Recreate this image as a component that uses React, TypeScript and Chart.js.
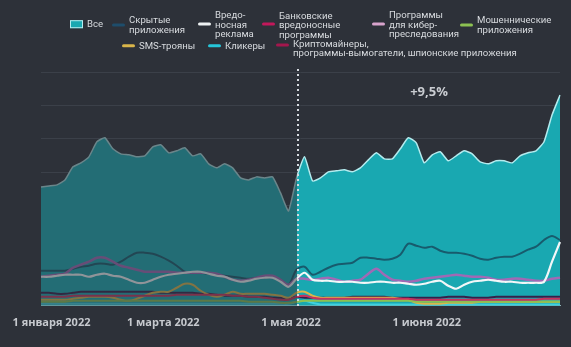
import React, { useEffect, useRef } from 'react';
import { Chart, registerables } from 'chart.js';

Chart.register(...registerables);

// ---------- DATA ----------
const categories = [
  '2021-12-28','2022-01-01','2022-01-05','2022-01-09','2022-01-13','2022-01-17','2022-01-21','2022-01-25','2022-01-29','2022-02-02',
  '2022-02-06','2022-02-10','2022-02-14','2022-02-18','2022-02-23','2022-03-01','2022-03-05','2022-03-09','2022-03-13','2022-03-17',
  '2022-03-21','2022-03-25','2022-03-29','2022-04-02','2022-04-06','2022-04-10','2022-04-14','2022-04-18','2022-04-21','2022-04-24',
  '2022-04-27','2022-05-01','2022-05-03','2022-05-05','2022-05-07','2022-05-09','2022-05-11','2022-05-13','2022-05-15','2022-05-17',
  '2022-05-18','2022-05-20','2022-05-22','2022-05-24','2022-05-25','2022-05-27','2022-05-29','2022-05-30','2022-06-01','2022-06-03',
  '2022-06-05','2022-06-07','2022-06-09','2022-06-11','2022-06-13','2022-06-15','2022-06-17','2022-06-19','2022-06-21','2022-06-23',
  '2022-06-25','2022-06-27','2022-06-29','2022-07-01','2022-07-03','2022-07-05',
];

const xTickLabels: Record<string, string> = {
  '2022-01-01': '1 января 2022',
  '2022-03-01': '1 марта 2022',
  '2022-05-01': '1 мая 2022',
  '2022-06-01': '1 июня 2022',
};

const dividerCategory = '2022-05-03';
const changeLabel = '+9,5%';

const seriesNames = [
  'Все',
  'Скрытые приложения',
  'Вредоносная реклама',
  'Банковские вредоносные программы',
  'Программы для кибер-преследования',
  'Мошеннические приложения',
  'SMS-трояны',
  'Кликеры',
  'Криптомайнеры, программы-вымогатели, шпионские приложения',
];

const legendLines = [
  ['Все'],
  ['Скрытые', 'приложения'],
  ['Вредо-', 'носная', 'реклама'],
  ['Банковские', 'вредоносные', 'программы'],
  ['Программы', 'для кибер-', 'преследования'],
  ['Мошеннические', 'приложения'],
  ['SMS-трояны'],
  ['Кликеры'],
  ['Криптомайнеры,', 'программы-вымогатели, шпионские приложения'],
];

const vse = [35.6,35.9,36.2,37.7,41.6,42.8,44.6,49.1,50.3,47.0, 45.5,45.2,44.6,44.9,47.6,48.2,45.8,46.4,47.3,44.9, 45.5,42.5,41.3,42.5,41.3,38.3,37.7,38.6,38.3,38.6, 33.8,28.4,38.3,44.6,37.4,38.3,40.1,40.4,40.7,40.1, 41.3,43.7,45.8,44.0,44.0,47.0,50.3,48.8,42.8,45.2, 46.1,43.4,44.9,46.4,45.5,43.1,42.5,43.4,43.4,42.8, 44.9,45.8,46.4,49.1,57.1,63.1];
const skrytye = [10.5,10.5,10.5,10.5,11.1,11.7,12.0,12.6,12.6,12.3, 13.2,14.7,15.9,15.9,15.6,14.7,13.5,12.0,10.2,9.9, 9.9,9.6,9.3,9.0,8.7,8.4,8.1,8.4,8.4,8.7, 7.8,6.3,10.8,11.7,9.3,10.2,11.4,12.3,12.6,12.9, 14.4,14.4,14.1,13.8,14.1,15.3,18.6,18.0,17.4,17.7, 16.5,15.9,15.9,15.6,15.0,14.1,13.8,14.4,14.7,14.7, 15.6,16.8,17.7,19.7,20.9,19.7];
const vredReklama = [8.7,8.7,9.0,9.3,9.3,9.3,8.7,9.3,9.6,9.0, 8.7,7.8,6.9,6.9,7.8,8.7,9.3,9.6,9.9,10.2, 10.2,9.6,9.0,8.7,7.8,7.2,7.5,8.1,8.4,8.4, 7.2,5.7,8.1,9.9,7.8,7.5,7.5,7.2,7.2,7.2, 6.9,6.9,7.2,7.2,6.9,6.9,6.6,6.3,6.6,7.2, 7.5,6.0,5.1,6.3,7.2,7.5,7.8,7.5,7.2,7.2, 6.9,6.9,6.9,7.2,13.2,19.1];
const bank = [2.7,2.7,2.7,2.7,3.0,3.0,3.0,3.0,3.0,3.0, 3.0,3.0,3.0,3.0,3.0,3.0,3.0,3.3,3.3,3.3, 3.3,3.3,3.3,3.3,3.0,3.0,2.7,2.7,2.4,2.1, 1.8,1.8,2.7,3.0,2.4,2.1,2.1,2.1,2.1,2.1, 2.1,2.1,2.1,2.1,2.1,2.1,2.1,1.8,1.8,1.8, 1.8,1.8,1.8,1.8,1.8,1.8,1.8,1.8,1.8,1.8, 1.8,1.8,1.8,2.1,2.1,2.1];
const kiber = [8.7,9.0,9.3,9.6,11.4,12.3,13.2,14.4,14.4,13.2, 12.0,11.4,10.8,10.2,10.2,10.2,10.2,9.9,9.9,9.9, 9.9,9.9,9.6,8.7,7.8,7.5,7.8,8.4,9.0,9.0, 7.8,6.3,8.1,8.1,7.8,8.1,8.4,7.8,7.2,7.5, 7.8,9.6,11.1,9.3,7.8,7.5,7.2,7.5,8.1,8.4, 8.7,9.0,9.3,9.0,8.7,8.7,8.4,7.8,7.8,8.1, 8.1,7.8,7.5,7.5,8.1,8.4];
const moshen = [1.2,1.2,1.2,1.2,1.5,1.5,1.5,1.5,1.5,1.5, 1.5,1.5,1.5,1.5,1.5,1.5,1.5,1.5,1.5,1.5, 1.5,1.5,1.5,1.5,1.5,1.5,1.2,1.2,1.2,1.2, 0.9,0.9,1.2,1.5,1.5,1.5,1.5,1.5,1.5,1.5, 1.5,1.5,1.5,1.5,1.5,1.5,1.5,1.2,1.2,1.2, 1.2,1.2,1.2,1.2,1.2,1.2,1.2,1.2,1.2,1.2, 1.2,1.2,1.2,1.2,1.2,1.2];
const sms = [1.8,1.8,1.8,1.8,2.1,2.4,2.7,2.7,2.7,2.4, 1.8,1.5,2.1,3.0,3.9,4.2,4.2,5.4,6.6,6.3, 4.5,3.3,2.7,3.3,4.2,3.6,3.6,3.6,3.6,3.3, 3.0,2.4,3.9,4.2,3.0,2.4,2.4,2.4,2.4,2.4, 2.4,2.4,2.4,2.4,2.4,2.1,1.8,0.9,0.6,0.6, 0.6,0.9,0.9,0.9,0.9,1.2,1.2,1.2,1.2,1.2, 1.2,1.2,1.2,1.2,1.2,1.2];
const klikery = [0.6,0.6,0.6,0.6,0.6,0.6,0.6,0.6,0.6,0.6, 0.6,0.6,0.6,0.6,0.6,0.6,0.6,0.6,0.6,0.6, 0.6,0.6,0.6,0.6,0.6,0.6,0.6,0.6,0.6,0.6, 0.6,0.6,1.2,1.5,0.9,0.4,0.4,0.4,0.4,0.4, 0.4,0.4,0.4,0.4,0.4,0.4,0.4,0.4,0.4,0.4, 0.4,0.4,0.4,0.4,0.4,0.4,0.4,0.4,0.4,0.4, 0.4,0.4,0.4,0.4,0.4,0.4];
const crypto = [3.9,3.9,3.6,3.6,3.9,4.2,4.2,4.2,4.2,4.2, 4.2,4.2,4.2,4.2,4.2,3.9,3.9,3.9,3.9,3.9, 3.6,3.6,3.3,3.0,3.0,3.0,2.7,2.7,2.7,2.4, 2.4,2.1,2.7,2.4,2.4,2.4,2.4,2.4,2.4,2.7, 2.7,2.7,2.7,2.7,2.4,2.4,2.4,2.4,2.4,2.4, 2.4,2.7,2.7,2.7,2.4,2.4,2.4,2.7,2.7,2.7, 2.7,2.7,2.7,2.7,2.7,2.7];

// ---------- STYLE ----------
const BG = '#2d3139';
const GRID = '#3b4049';
const TEXT = '#d8dbdf';
const TICK = '#c6c9ce';
const FONT = '"Open Sans", "Noto Sans", sans-serif';
const LEGEND_FONT = 'Roboto, "Open Sans", sans-serif';

const TEAL = '#19a8b1';
const TEAL_BORDER = '#b4ebee';
const lineColors = ['#175b6d', '#f2f7f8', '#c8325c', '#a069b5', '#8cc152', '#d9b54a', '#3fd0de', '#35204a'];
const legendColors = [TEAL, '#1e4d6b', '#eef2f3', '#c2185b', '#d7a3cc', '#8cc152', '#d9b54a', '#26c6da', '#a3174d'];
const lineWidths = [2, 2.2, 2, 2.5, 2, 2, 2, 2];
const lineSeries = [skrytye, vredReklama, bank, kiber, moshen, sms, klikery, crypto];

const legendLayout = [
  { left: 70, top: 24 },
  { left: 112, top: 25 },
  { left: 198, top: 24 },
  { left: 262, top: 24.5 },
  { left: 372, top: 24 },
  { left: 460, top: 25 },
  { left: 122, top: 46 },
  { left: 208, top: 46 },
  { left: 276, top: 48.5 },
];

function hexToRgb(h: string) {
  const n = parseInt(h.slice(1), 16);
  return [(n >> 16) & 255, (n >> 8) & 255, n & 255];
}
function dim(c: string, t = 0.5) {
  const a = hexToRgb(c);
  const b = hexToRgb(BG);
  const m = a.map((v, i) => Math.round(v * (1 - t) + b[i] * t));
  return `rgb(${m[0]},${m[1]},${m[2]})`;
}

function splitColor(chart: any, left: string, right: string) {
  const { chartArea, scales } = chart;
  if (!chartArea || !scales || !scales.x) return right;
  const x = scales.x.getPixelForValue(categories.indexOf(dividerCategory));
  const w = chartArea.right - chartArea.left;
  const t = Math.min(1, Math.max(0, (x - chartArea.left) / w));
  const g = chart.ctx.createLinearGradient(chartArea.left, 0, chartArea.right, 0);
  g.addColorStop(0, left);
  g.addColorStop(t, left);
  g.addColorStop(t, right);
  g.addColorStop(1, right);
  return g;
}

const dividerPlugin = {
  id: 'divider',
  afterDatasetsDraw(chart: any) {
    const { ctx, chartArea, scales } = chart;
    const x = Math.round(scales.x.getPixelForValue(categories.indexOf(dividerCategory))) + 1;
    ctx.save();
    ctx.strokeStyle = '#d6dadf';
    ctx.lineWidth = 2;
    ctx.setLineDash([2, 3]);
    ctx.beginPath();
    ctx.moveTo(x, chartArea.top - 3);
    ctx.lineTo(x, chartArea.bottom + 2);
    ctx.stroke();
    ctx.setLineDash([]);
    ctx.fillStyle = '#c9ccd1';
    ctx.font = `bold 13px ${FONT}`;
    ctx.textAlign = 'center';
    ctx.textBaseline = 'middle';
    ctx.fillText(changeLabel, (x + chartArea.right) / 2, chartArea.top + 20);
    ctx.restore();
  },
};

export default function App() {
  const ref = useRef<HTMLCanvasElement>(null);

  useEffect(() => {
    document.body.style.margin = '0';
    const datasets: any[] = [
      {
        label: seriesNames[0],
        data: vse,
        order: 10,
        fill: 'origin',
        tension: 0.15,
        borderWidth: 1.5,
        pointRadius: 0,
        backgroundColor: (c: any) => splitColor(c.chart, dim(TEAL, 0.5), TEAL),
        borderColor: (c: any) => splitColor(c.chart, dim(TEAL_BORDER, 0.55), TEAL_BORDER),
      },
      ...lineSeries.map((d, i) => ({
        label: seriesNames[i + 1],
        data: d,
        order: 1,
        fill: false,
        tension: 0.3,
        borderWidth: lineWidths[i],
        pointRadius: 0,
        borderColor: (c: any) => splitColor(c.chart, dim(lineColors[i], 0.5), lineColors[i]),
      })),
    ];
    datasets[2].order = 0;
    datasets[4].order = 0;

    const chart = new Chart(ref.current!, {
      type: 'line',
      data: { labels: categories, datasets },
      options: {
        animation: false,
        responsive: false,
        devicePixelRatio: 1,
        layout: { padding: { left: 41, right: 11, top: 72, bottom: 8 } },
        plugins: { legend: { display: false }, tooltip: { enabled: false } },
        elements: { point: { radius: 0 } },
        scales: {
          x: {
            grid: { display: false, drawTicks: false },
            border: { display: true, color: '#8fb4b8', width: 1 },
            ticks: {
              autoSkip: false,
              maxRotation: 0,
              padding: 10,
              labelOffset: 2.5,
              color: TICK,
              font: { family: FONT, size: 11, weight: 'bold' },
              callback: (_v: any, i: number) => xTickLabels[categories[i]] ?? '',
            },
          },
          y: {
            min: 0,
            max: 70,
            ticks: { display: false, stepSize: 10 },
            grid: { color: GRID, drawTicks: false },
            border: { display: false },
          },
        },
      } as any,
      plugins: [dividerPlugin],
    });
    return () => chart.destroy();
  }, []);

  return (
    <div
      style={{
        position: 'fixed',
        left: 0,
        top: 0,
        width: 571,
        height: 347,
        background: BG,
        overflow: 'hidden',
        fontFamily: LEGEND_FONT,
      }}
    >
      <canvas ref={ref} width={571} height={347} style={{ position: 'absolute', left: 0, top: 0 }} />
      {legendLines.map((lines, i) => {
        const pos = legendLayout[i];
        const multiTop = i === 8;
        const marker =
          i === 0 ? (
            <div
              style={{
                width: 13,
                height: 8,
                background: TEAL,
                border: `1px solid ${TEAL_BORDER}`,
                boxSizing: 'border-box',
                flex: 'none',
              }}
            />
          ) : (
            <div
              style={{
                width: 13,
                height: 3,
                borderRadius: 1.5,
                background: legendColors[i],
                flex: 'none',
                marginTop: multiTop ? 4 : 0,
              }}
            />
          );
        return (
          <div
            key={i}
            style={{
              position: 'absolute',
              left: pos.left,
              top: pos.top,
              transform: 'translateY(-50%)',
              display: 'flex',
              alignItems: multiTop ? 'flex-start' : 'center',
              gap: 4,
            }}
          >
            {marker}
            <div style={{ fontSize: 9.6, lineHeight: '9.6px', color: TEXT, whiteSpace: 'nowrap' }}>
              {lines.map((l, j) => (
                <div key={j}>{l}</div>
              ))}
            </div>
          </div>
        );
      })}
    </div>
  );
}
